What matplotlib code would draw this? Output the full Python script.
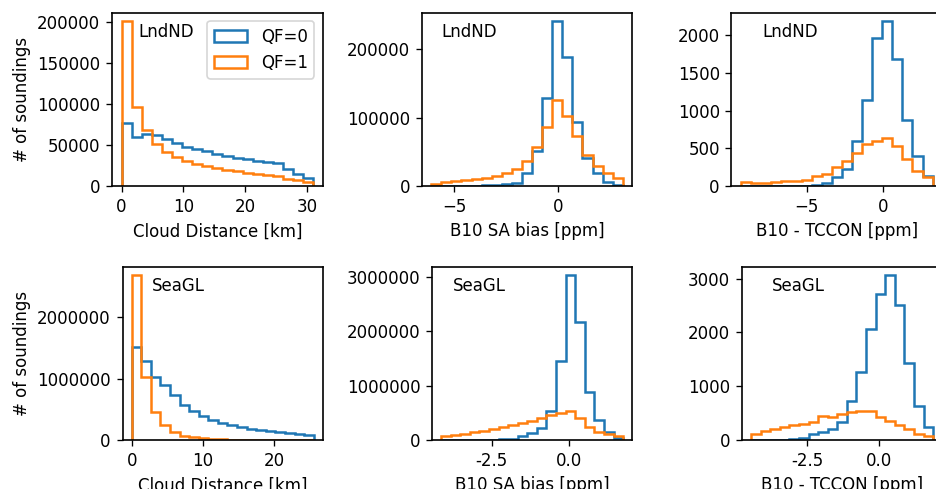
import numpy as np
import matplotlib
matplotlib.use("Agg")
import matplotlib.pyplot as plt

plt.rcParams["axes.linewidth"] = 1.0

# bin edges (19 bins per panel)
lnd_cd_edges = np.linspace(0, 31, 20)
lnd_sa_edges = np.linspace(-6.1, 3.1, 20)
lnd_tc_edges = np.linspace(-9.34, 3.28, 20)
sea_cd_edges = np.linspace(0, 25.5, 20)
sea_sa_edges = np.linspace(-4.14, 1.75, 20)
sea_tc_edges = np.linspace(-4.44, 1.88, 20)

# counts, QF=0 and QF=1
lnd_cd_qf0 = [77500, 60000, 64000, 62000, 57000, 52000, 48000, 45000, 42500, 39500,
              37000, 34500, 32500, 30500, 29500, 27500, 20500, 14500, 10000]
lnd_cd_qf1 = [201500, 96000, 68000, 51000, 41500, 35500, 30000, 27000, 24000, 22000,
              20000, 18000, 16000, 15000, 14000, 12000, 9000, 7000, 4500]

lnd_sa_qf0 = [0, 0, 200, 400, 700, 1000, 1800, 2500, 5000, 19000,
              51000, 128500, 241000, 189000, 93000, 41500, 19000, 6000, 2000]
lnd_sa_qf1 = [3400, 5400, 6800, 8300, 10200, 12200, 14600, 19000, 25400, 36600,
              57000, 86300, 125000, 102000, 72700, 45900, 29300, 19000, 12200]

lnd_tc_qf0 = [0, 0, 0, 0, 0, 2, 5, 18, 44, 120,
              230, 600, 1140, 1970, 2190, 1690, 870, 400, 128]
lnd_tc_qf1 = [53, 40, 44, 49, 62, 71, 75, 128, 160, 252,
              327, 442, 562, 593, 642, 531, 354, 199, 120]

sea_cd_qf0 = [1510000, 1280000, 1020000, 890000, 728000, 571000, 478000, 391000, 326000, 277000,
              239000, 207000, 179000, 158000, 141000, 125000, 109000, 98000, 87000]
sea_cd_qf1 = [2690000, 1030000, 462000, 239000, 136000, 70000, 43000, 27000, 16000, 11000,
              8000, 6000, 5000, 4000, 3000, 2500, 2000, 1500, 1000]

sea_sa_qf0 = [0, 0, 0, 500, 1500, 3000, 10000, 24000, 73000, 122000,
              227000, 539000, 1450000, 3030000, 2170000, 888000, 373000, 147000, 43000]
sea_sa_qf1 = [73000, 98000, 116000, 141000, 171000, 202000, 239000, 269000, 306000, 355000,
              410000, 459000, 490000, 530000, 398000, 239000, 153000, 104000, 67000]

sea_tc_qf0 = [0, 0, 0, 6, 12, 43, 105, 143, 198, 341,
              732, 1259, 2065, 2716, 3069, 2511, 1438, 626, 248]
sea_tc_qf1 = [105, 161, 211, 236, 273, 298, 341, 440, 422, 477,
              515, 546, 546, 422, 360, 273, 198, 118, 81]

fig = plt.figure(figsize=(7.8, 4.075), dpi=120)

top_b, bot_b, h = 0.6196, 0.1002, 0.3544
top_w, bot_w = 0.2251, 0.2140
panels = [
    # left, bottom, width, edges, qf0, qf1, tag, tagx, xlabel, xticks, yticks
    (0.1197, top_b, top_w, lnd_cd_edges, lnd_cd_qf0, lnd_cd_qf1, "LndND", 0.123,
     "Cloud Distance [km]", [0, 10, 20, 30], [0, 50000, 100000, 150000, 200000]),
    (0.4505, top_b, top_w, lnd_sa_edges, lnd_sa_qf0, lnd_sa_qf1, "LndND", 0.095,
     "B10 SA bias [ppm]", [-5, 0], [0, 100000, 200000]),
    (0.7815, top_b, top_w, lnd_tc_edges, lnd_tc_qf0, lnd_tc_qf1, "LndND", 0.148,
     "B10 - TCCON [ppm]", [-5, 0], [0, 500, 1000, 1500, 2000]),
    (0.1309, bot_b, bot_w, sea_cd_edges, sea_cd_qf0, sea_cd_qf1, "SeaGL", 0.146,
     "Cloud Distance [km]", [0, 10, 20], [0, 1000000, 2000000]),
    (0.4615, bot_b, bot_w, sea_sa_edges, sea_sa_qf0, sea_sa_qf1, "SeaGL", 0.103,
     "B10 SA bias [ppm]", [-2.5, 0.0], [0, 1000000, 2000000, 3000000]),
    (0.7927, bot_b, bot_w, sea_tc_edges, sea_tc_qf0, sea_tc_qf1, "SeaGL", 0.148,
     "B10 - TCCON [ppm]", [-2.5, 0.0], [0, 1000, 2000, 3000]),
]

for i, (l, b, w, edges, q0, q1, tag, tx, xl, xt, yt) in enumerate(panels):
    ax = fig.add_axes([l, b, w, h])
    centers = 0.5 * (edges[:-1] + edges[1:])
    ax.hist(centers, bins=edges, weights=q0, histtype="step", color="C0",
            linewidth=1.5, label="QF=0")
    ax.hist(centers, bins=edges, weights=q1, histtype="step", color="C1",
            linewidth=1.5, label="QF=1")
    ax.set_xticks(xt)
    ax.set_yticks(yt)
    if isinstance(xt[0], float):
        ax.set_xticklabels([f"{v:.1f}" for v in xt])
    ax.ticklabel_format(axis="y", style="plain")
    ax.set_xlabel(xl)
    ax.text(tx, 0.89, tag, transform=ax.transAxes, va="center", ha="left", fontsize=10)
    if i % 3 == 0:
        ax.set_ylabel("# of soundings")
    if i == 0:
        ax.legend(loc="upper right")

fig.savefig("out.png", dpi=120)
